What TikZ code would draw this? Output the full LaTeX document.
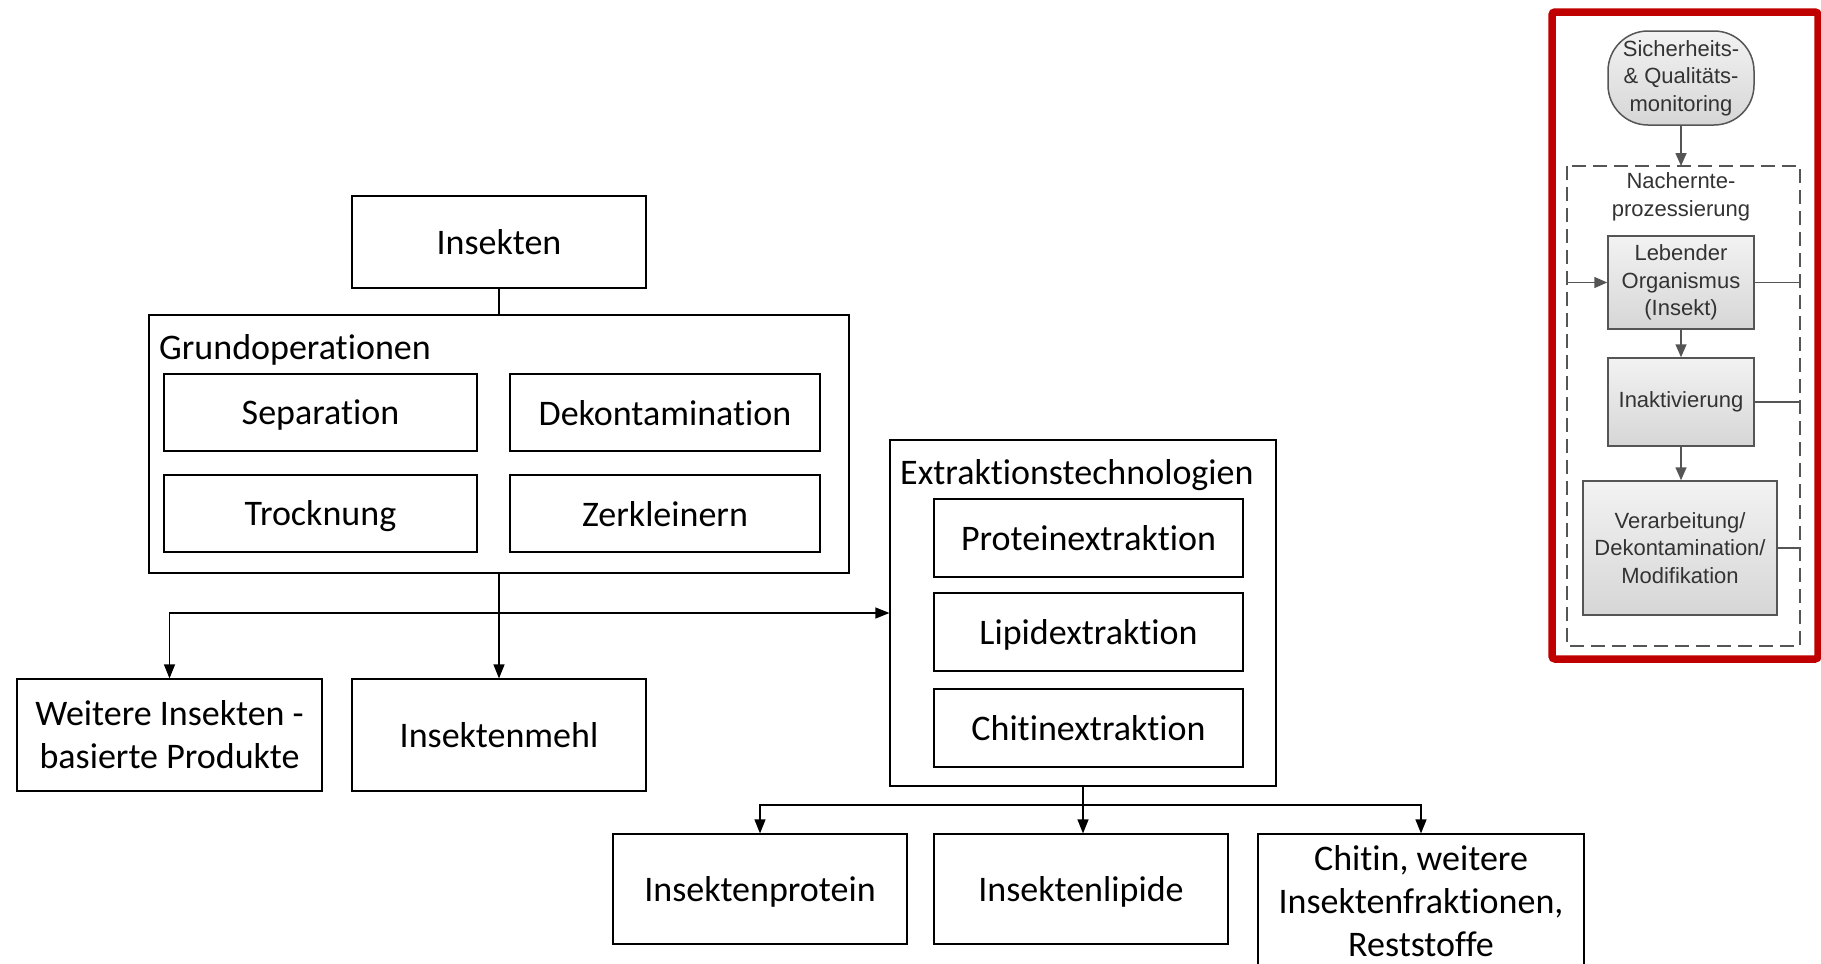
\documentclass[tikz,border=0pt]{standalone}
\usepackage{fontspec}
\setmainfont{Carlito}[Ligatures={NoCommon}]
\newfontfamily\arialf{Liberation Sans}
\usetikzlibrary{arrows.meta}
\definecolor{redb}{HTML}{C00000}
\definecolor{gline}{HTML}{555555}
\definecolor{gtext}{HTML}{333333}
\newcommand{\lowtxt}[2][2.5pt]{\raisebox{-#1}[\height][\depth]{#2}}
\tikzset{
  lbox/.style={draw=black, line width=1.2pt, inner sep=0pt, align=center,
    font=\fontsize{36}{43}\selectfont},
  ltxt/.style={inner sep=0pt, anchor=west, font=\fontsize{36}{43}\selectfont},
  arr/.style={line width=1.2pt, -{Triangle[width=11pt,length=14pt]}},
  ln/.style={line width=1.2pt},
  gbox/.style={draw=gline, line width=1.5pt, inner sep=0pt, align=center,
    top color=white!95!black, bottom color=white!84!black, text=gtext,
    font=\arialf\fontsize{22}{27.5}\selectfont},
  gtxt/.style={inner sep=0pt, align=center, text=gtext,
    font=\arialf\fontsize{22}{27.5}\selectfont},
  garr/.style={draw=gline, line width=1.5pt, -{Triangle[width=11pt,length=13pt]}},
  gln/.style={draw=gline, line width=1.5pt},
}
\begin{document}
\begin{tikzpicture}[x=1pt,y=-1pt]
\useasboundingbox (0,0) rectangle (1821,964);
% ---------- left diagram ----------
\node[lbox, minimum width=294pt, minimum height=92pt] (ins) at (499,242) {Insekten};
\node[lbox, minimum width=700pt, minimum height=258pt] (grund) at (499,444) {};
\node[ltxt] (grundl) at (159,349.5) {Grundoperationen};
\node[lbox, minimum width=313pt, minimum height=77pt] (sep) at (320.5,412.5) {\lowtxt{Separation}};
\node[lbox, minimum width=310pt, minimum height=77pt] (dek) at (665,412.5) {\lowtxt[1pt]{Dekontamination}};
\node[lbox, minimum width=313pt, minimum height=77pt] (tro) at (320.5,513.5) {\lowtxt{Trocknung}};
\node[lbox, minimum width=310pt, minimum height=77pt] (zer) at (665,513.5) {\lowtxt[1pt]{Zerkleinern}};
\node[lbox, minimum width=305pt, minimum height=112pt] (weit) at (169.5,735) {Weitere Insekten -\\basierte Produkte};
\node[lbox, minimum width=294pt, minimum height=112pt] (mehl) at (499,735) {Insektenmehl};
\node[lbox, minimum width=386pt, minimum height=346pt] (extr) at (1083,613) {};
\node[ltxt] (extrl) at (900,475.5) {Extraktionstechnologien};
\node[lbox, minimum width=309pt, minimum height=78pt] (prot) at (1088.5,538) {Proteinextraktion};
\node[lbox, minimum width=309pt, minimum height=78pt] (lipx) at (1088.5,632) {\lowtxt{Lipidextraktion}};
\node[lbox, minimum width=309pt, minimum height=78pt] (chitx) at (1088.5,728) {Chitinextraktion};
\node[lbox, minimum width=294pt, minimum height=110pt] (iprot) at (760,889) {\lowtxt[3pt]{Insektenprotein}};
\node[lbox, minimum width=294pt, minimum height=110pt] (ilip) at (1081,889) {\lowtxt[3pt]{Insektenlipide}};
\node[lbox, minimum width=326pt, minimum height=134pt] (chit) at (1421,901) {Chitin, weitere\\Insektenfraktionen,\\Reststoffe};
% connectors
\draw[ln] (ins.south) -- (grund.north);
\coordinate (b1) at (499,613);
\draw[arr] (grund.south) -- (mehl.north);
\draw[arr] (b1) -| (weit.north);
\draw[arr] (b1) -- (extr.west);
\coordinate (b2) at (1083,805);
\draw[arr] (extr.south) -- (extr.south |- ilip.north);
\draw[arr] (b2) -| (iprot.north);
\draw[arr] (b2) -| (chit.north);
% ---------- right panel ----------
\draw[redb, line width=7.5pt, rounded corners=3pt] (1552,12) rectangle (1818,659);
\node[gbox, rounded corners=40pt, minimum width=146pt, minimum height=94pt] (sq) at (1681,78) {Sicherheits-\\\& Qualitäts-\\monitoring};
\coordinate (dtl) at (1567,166);
\coordinate (dbr) at (1800,646);
\draw[gln, dash pattern=on 14pt off 7pt] (dtl) rectangle (dbr);
\node[gtxt] (nach) at (1681,197) {Nachernte-\\prozessierung};
\node[gbox, minimum width=146pt, minimum height=93pt] (leb) at (1681,282.5) {Lebender\\Organismus\\(Insekt)};
\node[gbox, minimum width=146pt, minimum height=88pt] (inak) at (1681,402) {Inaktivierung};
\node[gbox, minimum width=194pt, minimum height=134pt] (verb) at (1680,548) {Verarbeitung/\\Dekontamination/\\Modifikation};
\draw[garr] (sq.south) -- (sq.south |- dtl);
\draw[garr] (dtl |- leb.west) -- (leb.west);
\draw[gln] (leb.east) -- (dbr |- leb.east);
\draw[garr] (leb.south) -- (inak.north);
\draw[gln] (inak.east) -- (dbr |- inak.east);
\draw[garr] (inak.south) -- (inak.south |- verb.north);
\draw[gln] (verb.east) -- (dbr |- verb.east);
\end{tikzpicture}
\end{document}
